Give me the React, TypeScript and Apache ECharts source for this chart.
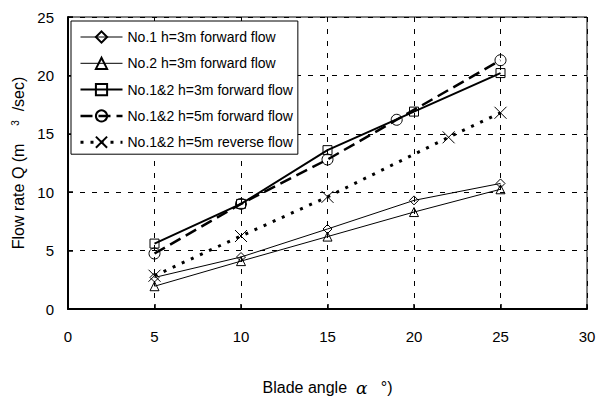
import React, { useEffect, useRef } from "react";
import * as echarts from "echarts";

const xTicks = [0, 5, 10, 15, 20, 25, 30];
const yTicks = [0, 5, 10, 15, 20, 25];

const seriesNames = [
  "No.1 h=3m forward flow",
  "No.2 h=3m forward flow",
  "No.1&2 h=3m forward flow",
  "No.1&2 h=5m forward flow",
  "No.1&2 h=5m reverse flow",
];

const no1_3m_x = [5, 10, 15, 20, 25];
const no1_3m_y = [2.7, 4.45, 6.85, 9.3, 10.75];

const no2_3m_x = [5, 10, 15, 20, 25];
const no2_3m_y = [1.95, 4.1, 6.2, 8.3, 10.25];

const both_3m_x = [5, 10, 15, 20, 25];
const both_3m_y = [5.6, 9.0, 13.6, 16.9, 20.2];

const both_5m_fwd_x = [5, 10, 15, 19, 25];
const both_5m_fwd_y = [4.75, 9.0, 12.8, 16.2, 21.3];

const both_5m_rev_x = [5, 10, 15, 22, 25];
const both_5m_rev_y = [2.85, 6.25, 9.6, 14.7, 16.8];

const zip = (xs: number[], ys: number[]) => xs.map((x, i) => [x, ys[i]]);

const FONT = "'Liberation Sans', Arial, sans-serif";
const CROSS = "path://M0,0L10,10M10,0L0,10";

export default function App() {
  const ref = useRef<HTMLDivElement>(null);
  useEffect(() => {
    if (!ref.current) return;
    const chart = echarts.init(ref.current, null, { renderer: "svg" });
    const hollow = { color: "transparent", borderColor: "#000", borderWidth: 1 };
    const styles: any[] = [
      { width: 1, type: "solid" },
      { width: 1, type: "solid" },
      { width: 2, type: "solid" },
      { width: 2.5, type: [12, 6] },
      { width: 3, type: [3, 7] },
    ];
    const symbols = ["diamond", "triangle", "rect", "circle", CROSS];
    const sizes = [9, 9, 9, 11, 12];
    const datas = [
      zip(no1_3m_x, no1_3m_y),
      zip(no2_3m_x, no2_3m_y),
      zip(both_3m_x, both_3m_y),
      zip(both_5m_fwd_x, both_5m_fwd_y),
      zip(both_5m_rev_x, both_5m_rev_y),
    ];
    chart.setOption({
      animation: false,
      backgroundColor: "#fff",
      textStyle: { fontFamily: FONT },
      grid: {
        left: 68,
        right: 9,
        top: 17,
        bottom: 88,
        outerBoundsMode: "none",
        containLabel: false,
        show: true,
        borderColor: "#000",
        borderWidth: 1,
        backgroundColor: "transparent",
      },
      legend: {
        orient: "vertical",
        left: 71,
        top: 21,
        padding: [9, 5, 5, 8],
        itemGap: 12.3,
        itemWidth: 42,
        itemHeight: 14,
        backgroundColor: "#fff",
        borderColor: "#000",
        borderWidth: 1,
        borderRadius: 0,
        textStyle: { fontFamily: FONT, fontSize: 14, lineHeight: 14, color: "#000" },
        data: seriesNames.map((n, i) => ({
          name: n,
          lineStyle: { color: "#000", ...styles[i] },
        })),
      },
      xAxis: {
        type: "value",
        min: xTicks[0],
        max: xTicks[xTicks.length - 1],
        interval: 5,
        name: "Blade angle  {a|α}   °)",
        nameLocation: "middle",
        nameGap: 70,
        nameTextStyle: {
          fontFamily: FONT,
          fontSize: 16,
          color: "#000",
          rich: {
            a: { fontFamily: "'DejaVu Serif', serif", fontStyle: "italic", fontSize: 17, color: "#000" },
          },
        },
        axisLine: { show: true, lineStyle: { color: "#000", width: 2 } },
        axisTick: { show: true, inside: true, length: 5, lineStyle: { color: "#000", width: 1.5 } },
        axisLabel: { fontFamily: FONT, fontSize: 15, color: "#000", margin: 20 },
        splitLine: { show: true, lineStyle: { color: "#000", type: [5, 7], width: 1 } },
      },
      yAxis: {
        type: "value",
        min: yTicks[0],
        max: yTicks[yTicks.length - 1],
        interval: 5,
        name: "Flow rate Q (m    {s|3}  /sec)",
        nameLocation: "middle",
        nameGap: 41,
        nameTextStyle: {
          fontFamily: FONT,
          fontSize: 16,
          color: "#000",
          rich: {
            s: { fontFamily: FONT, fontSize: 10, color: "#000", verticalAlign: "top" },
          },
        },
        axisLine: { show: true, lineStyle: { color: "#000", width: 2 } },
        axisTick: { show: true, inside: true, length: 5, lineStyle: { color: "#000", width: 1.5 } },
        axisLabel: { fontFamily: FONT, fontSize: 15, color: "#000", margin: 14 },
        splitLine: { show: true, lineStyle: { color: "#000", type: [5, 7], width: 1 } },
      },
      series: seriesNames.map((n, i) => ({
        name: n,
        type: "line",
        data: datas[i],
        symbol: symbols[i],
        symbolSize: sizes[i],
        showAllSymbol: true,
        itemStyle: hollow,
        lineStyle: { color: "#000", ...styles[i] },
        z: 3,
      })),
    });
    return () => chart.dispose();
  }, []);
  return (
    <div
      ref={ref}
      style={{ position: "fixed", left: 0, top: 0, width: 596, height: 397, background: "#fff" }}
    />
  );
}
